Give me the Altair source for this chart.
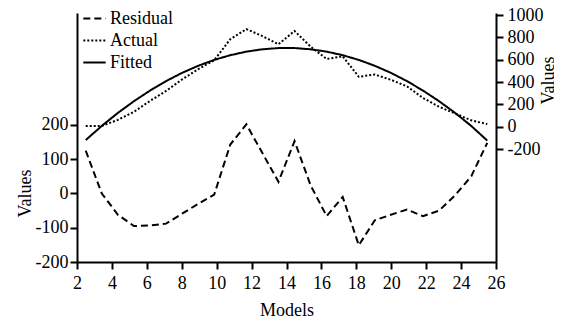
import altair as alt
import pandas as pd

models = [2.5, 3.42, 4.34, 5.26, 6.18, 7.1, 8.02, 8.94, 9.86, 10.78, 11.7, 12.62, 13.54,
          14.46, 15.38, 16.3, 17.22, 18.14, 19.06, 19.98, 20.9, 21.82, 22.74, 23.66, 24.58, 25.5]
residual = [125, 0, -62, -95, -93, -88, -59, -30, -3, 143, 202, 118, 34,
            153, 24, -66, -10, -151, -78, -62, -47, -66, -50, -5, 50, 148]
actual = [5, 7, 61, 133, 230, 320, 423, 515, 595, 783, 874, 811, 738,
          857, 717, 606, 630, 447, 467, 420, 361, 257, 178, 118, 57, 23]
fitted = [-120, 7, 123, 228, 323, 408, 482, 545, 598, 640, 672, 693, 704,
          704, 693, 672, 640, 598, 545, 482, 408, 323, 228, 123, 7, -125]
series_names = ["Residual", "Actual", "Fitted"]
x_ticks = [2, 4, 6, 8, 10, 12, 14, 16, 18, 20, 22, 24, 26]
left_ticks = [-200, -100, 0, 100, 200]
right_ticks = [-200, 0, 200, 400, 600, 800, 1000]

res_df = pd.DataFrame({"Models": models, "Values": residual, "series": "Residual"})
af_df = pd.concat([
    pd.DataFrame({"Models": models, "Values": actual, "series": "Actual"}),
    pd.DataFrame({"Models": models, "Values": fitted, "series": "Fitted"}),
])

FONT = "Liberation Serif"
LBL = "'' + datum.value"

x_enc = alt.X(
    "Models:Q",
    scale=alt.Scale(domain=[2, 26], nice=False, zero=False),
    axis=alt.Axis(values=x_ticks, title="Models", tickSize=7, labelPadding=5,
                  titlePadding=9, labelExpr=LBL, labelFlush=False),
)

dash_enc = alt.StrokeDash(
    "series:N",
    scale=alt.Scale(domain=series_names, range=[[7, 4], [2, 2], [1, 0]]),
    legend=alt.Legend(
        title=None, orient="none", legendX=5, legendY=-7,
        symbolType="stroke", symbolSize=500, symbolStrokeWidth=2,
        symbolStrokeColor="black", labelFontSize=18, labelOffset=3,
        rowPadding=0, padding=0, labelColor="black",
    ),
)

left = alt.Chart(res_df).mark_line(color="black", strokeWidth=2).encode(
    x=x_enc,
    y=alt.Y(
        "Values:Q",
        scale=alt.Scale(domain=[-200, 527], nice=False, zero=False),
        axis=alt.Axis(values=left_ticks, title="Values", orient="left", tickSize=7,
                      labelPadding=2, titleAngle=270, titleBaseline="middle",
                      titleX=-52, titleY=180, labelExpr=LBL, labelFlush=False),
    ),
    strokeDash=dash_enc,
)

right = alt.Chart(af_df).mark_line(color="black", strokeWidth=2).encode(
    x=x_enc,
    y=alt.Y(
        "Values:Q",
        scale=alt.Scale(domain=[-1212, 1018], nice=False, zero=False),
        axis=alt.Axis(values=right_ticks, title="Values", orient="right", tickSize=7,
                      labelPadding=4, titleAngle=270, titleBaseline="middle",
                      titleX=52, titleY=67, labelExpr=LBL, labelFlush=False),
    ),
    strokeDash=dash_enc,
)

chart = alt.layer(left, right).resolve_scale(y="independent").properties(
    width=419, height=249,
    autosize=alt.AutoSizeParams(type="none"),
    padding={"left": 69, "top": 5, "right": 58, "bottom": 58},
).configure(font=FONT).configure_view(stroke=None).configure_axis(
    grid=False, domainColor="black", domainWidth=2, tickColor="black", tickWidth=2,
    labelColor="black", titleColor="black", labelFontSize=18, titleFontSize=18,
    titleFontWeight="normal", labelFont=FONT, titleFont=FONT,
).configure_legend(labelFont=FONT)

chart.save("out.html", embed_options={"renderer": "svg", "actions": False})
